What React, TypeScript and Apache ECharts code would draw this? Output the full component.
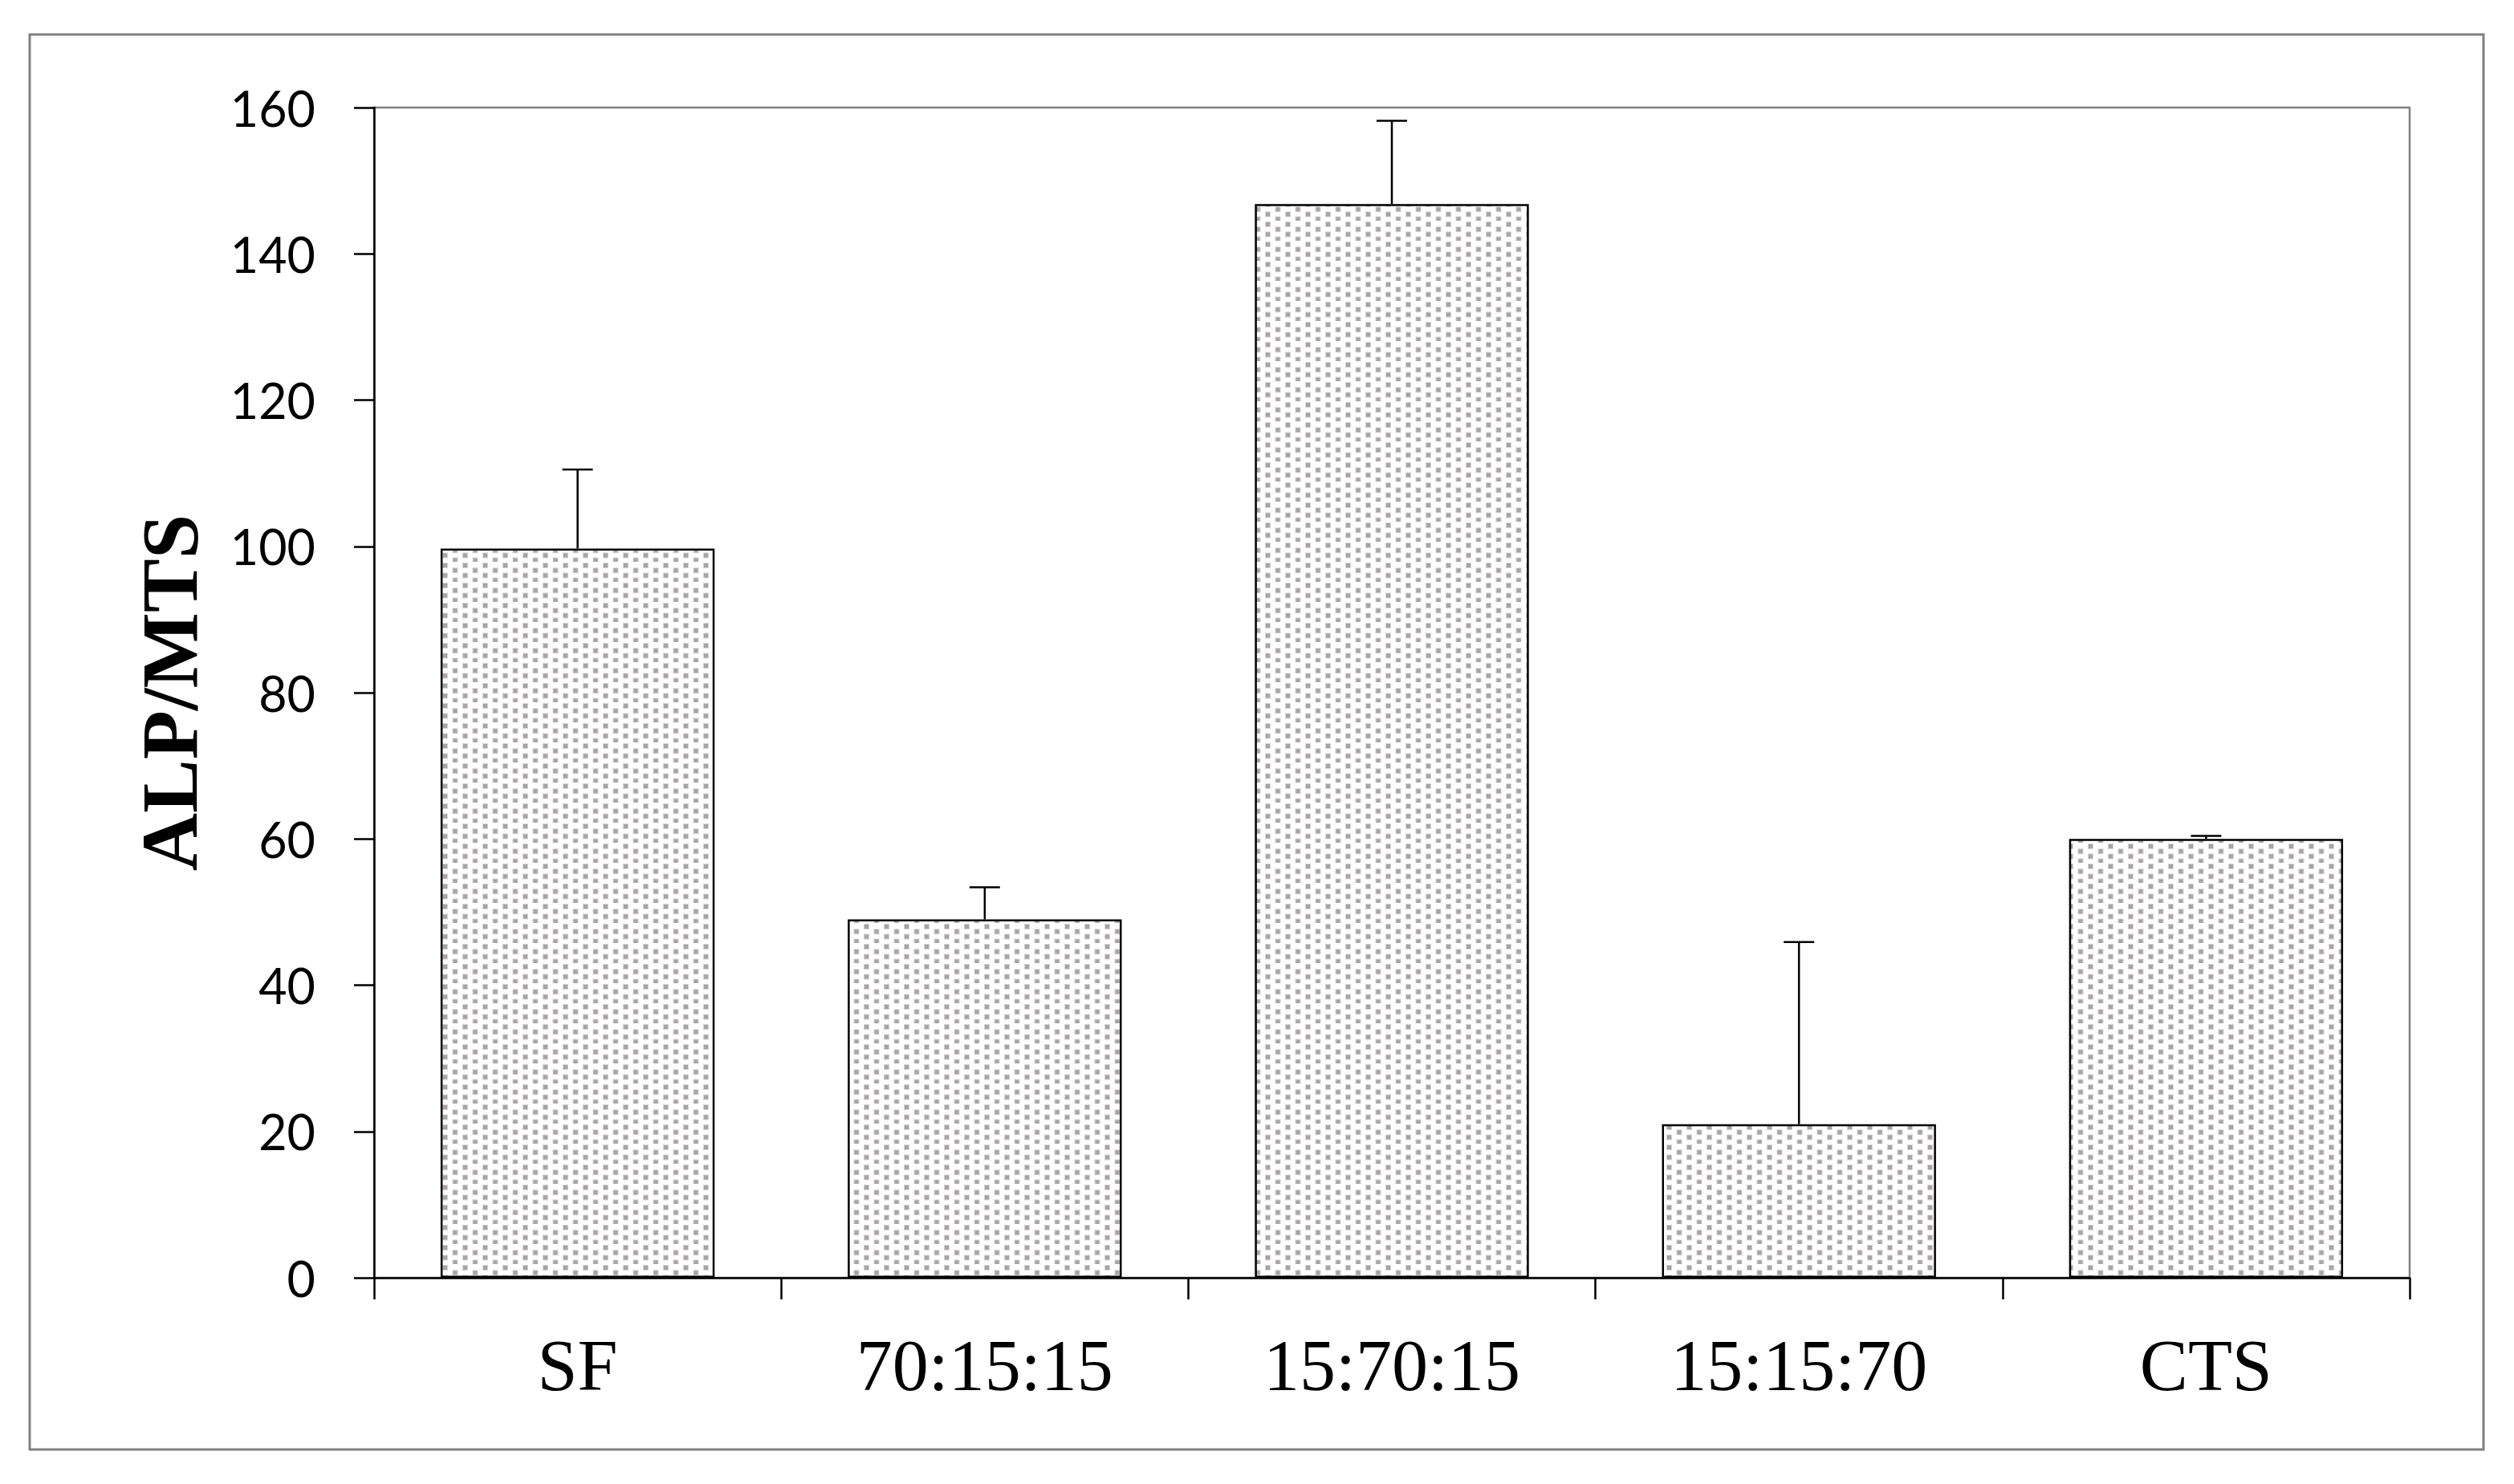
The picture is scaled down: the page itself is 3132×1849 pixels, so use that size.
import React, { useEffect, useRef } from "react";
import * as echarts from "echarts";

const categories = ["SF", "70:15:15", "15:70:15", "15:15:70", "CTS"];
const values = [99.7, 49.0, 146.8, 21.0, 60.0];
const errorUpper = [110.5, 53.4, 158.2, 45.9, 60.4];
const yMin = 0;
const yMax = 160;
const yInterval = 20;
const yTitle = "ALP/MTS";

function makePattern(): HTMLCanvasElement {
  const c = document.createElement("canvas");
  c.width = 25;
  c.height = 25;
  const ctx = c.getContext("2d")!;
  ctx.fillStyle = "#ffffff";
  ctx.fillRect(0, 0, 25, 25);
  const pts = [
    [2, 2],
    [14.5, 8.25],
    [2, 14.5],
    [14.5, 20.5],
  ];
  ctx.fillStyle = "#d6d3d3";
  pts.forEach(([x, y]) => ctx.fillRect(x - 1, y - 1, 7, 7));
  ctx.fillStyle = "#a8a4a4";
  pts.forEach(([x, y]) => ctx.fillRect(x, y, 5, 5));
  return c;
}

export default function App() {
  const ref = useRef<HTMLDivElement>(null);
  useEffect(() => {
    if (!ref.current) return;
    const chart = echarts.init(ref.current, undefined, { renderer: "svg" });
    const pattern = makePattern();
    const errData = categories.map((_, i) => [i, values[i], errorUpper[i]]);
    chart.setOption({
      animation: false,
      backgroundColor: "#ffffff",
      graphic: [
        {
          type: "rect",
          z: -10,
          shape: { x: 37, y: 43, width: 3057, height: 1763 },
          style: { fill: "none", stroke: "#808080", lineWidth: 3 },
        },
      ],
      grid: {
        left: 466,
        right: 130,
        top: 134,
        bottom: 257,
        show: true,
        borderColor: "#808080",
        borderWidth: 2.5,
        backgroundColor: "transparent",
      },
      xAxis: {
        type: "category",
        data: categories,
        boundaryGap: true,
        axisLine: { show: true, lineStyle: { color: "#000", width: 2.5 } },
        axisTick: {
          show: true,
          interval: 0,
          length: 27,
          lineStyle: { color: "#000", width: 2.5 },
        },
        axisLabel: {
          interval: 0,
          color: "#000",
          fontFamily: "Liberation Serif",
          fontSize: 90,
          margin: 64,
        },
        splitLine: { show: false },
      },
      yAxis: {
        type: "value",
        min: yMin,
        max: yMax,
        interval: yInterval,
        name: yTitle,
        nameLocation: "middle",
        nameRotate: 90,
        nameGap: 205,
        nameTextStyle: {
          color: "#000",
          fontFamily: "Liberation Serif",
          fontWeight: "bold",
          fontSize: 100,
        },
        axisLine: { show: true, lineStyle: { color: "#000", width: 2.5 } },
        axisTick: {
          show: true,
          length: 25,
          lineStyle: { color: "#000", width: 2.5 },
        },
        axisLabel: {
          color: "#000",
          fontFamily: "Lato",
          fontSize: 61,
          margin: 73,
        },
        splitLine: { show: false },
      },
      series: [
        {
          type: "bar",
          data: values,
          barWidth: "67.3%",
          itemStyle: {
            color: {
              image: pattern,
              repeat: "repeat",
              imageWidth: 25,
              imageHeight: 25,
            } as any,
            borderColor: "#000",
            borderWidth: 2.5,
          },
          z: 2,
        },
        {
          type: "custom",
          data: errData,
          encode: { x: 0, y: [1, 2] },
          z: 3,
          renderItem: (params: any, api: any) => {
            const base = api.coord([api.value(0), api.value(1)]);
            const top = api.coord([api.value(0), api.value(2)]);
            const hw = 19;
            const st = { stroke: "#000", lineWidth: 2.5 };
            return {
              type: "group",
              children: [
                {
                  type: "line",
                  shape: { x1: base[0], y1: base[1], x2: top[0], y2: top[1] },
                  style: st,
                },
                {
                  type: "line",
                  shape: { x1: top[0] - hw, y1: top[1], x2: top[0] + hw, y2: top[1] },
                  style: st,
                },
              ],
            };
          },
        },
      ],
    });
    return () => chart.dispose();
  }, []);
  return (
    <div
      ref={ref}
      style={{ position: "fixed", left: 0, top: 0, width: 3132, height: 1849 }}
    />
  );
}
